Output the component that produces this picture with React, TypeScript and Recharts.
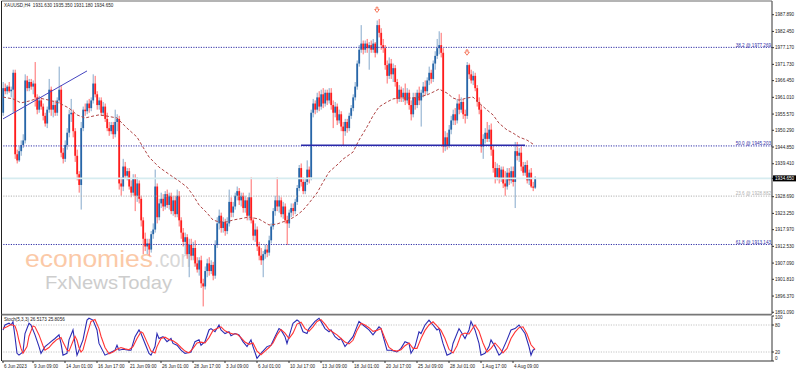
import React from 'react';
import { ComposedChart, Bar, Line, XAxis, YAxis, ReferenceLine, ReferenceDot } from 'recharts';

const FONT = '"Liberation Sans", Arial, sans-serif';

// XAUUSD H4 candles, oldest first (bar 0 = 6 Jun 21:00)
const opens = [
  1956, 1964, 1963, 1964.5, 1963, 1963.5, 1969, 1942.5, 1940.5, 1943.5,
  1945.5, 1947, 1966.5, 1964, 1966, 1964.5, 1965.5, 1961, 1957, 1960,
  1958, 1955, 1952.5, 1957, 1963.5, 1957, 1958.5, 1956, 1960, 1963.5,
  1943, 1941, 1945.5, 1949.5, 1955.5, 1956, 1950, 1942, 1936, 1932.5,
  1951, 1957, 1956.5, 1959, 1957.5, 1960, 1965.5, 1962, 1958.5, 1960,
  1956, 1958, 1954, 1951, 1950, 1952, 1949, 1953, 1954, 1933,
  1932, 1938.5, 1935.5, 1937, 1932, 1930, 1934.5, 1929, 1933, 1928,
  1921, 1915, 1912.5, 1913.5, 1911.5, 1916.5, 1918, 1932, 1922, 1926.5,
  1928, 1925.5, 1929.5, 1926, 1929, 1924, 1927.5, 1923, 1929, 1921,
  1917, 1914, 1915.5, 1910, 1913, 1909.5, 1912, 1907, 1905, 1908,
  1900.5, 1899.5, 1904.5, 1907, 1904.5, 1906.5, 1903, 1913, 1920, 1922.5,
  1918.5, 1920.5, 1917.5, 1920, 1927, 1923.5, 1925.5, 1929, 1930.5, 1927.5,
  1929, 1925, 1927.5, 1922.5, 1928.5, 1921, 1916, 1918, 1912.5, 1909.5,
  1908, 1910, 1911.5, 1910.5, 1914.5, 1919, 1924, 1927.5, 1925.5, 1927.5,
  1923, 1925.5, 1921, 1920, 1923.5, 1925, 1924, 1927, 1931.5, 1938,
  1933.5, 1930.5, 1933.5, 1937.5, 1935, 1956, 1959, 1957, 1961, 1958,
  1962, 1959, 1962.5, 1960, 1962.5, 1958.5, 1956, 1958, 1953.5, 1955.5,
  1951.5, 1950, 1953, 1951, 1955, 1957.5, 1961, 1964.5, 1972, 1976.5,
  1978.5, 1976.5, 1978.5, 1977, 1978, 1976.5, 1978.5, 1975.5, 1984.5, 1982,
  1978, 1977, 1971.5, 1968, 1972, 1968.5, 1970.5, 1966, 1960.5, 1963.5,
  1961, 1962.5, 1960, 1962.5, 1958.5, 1955.5, 1961, 1958.5, 1962.5, 1960,
  1962.5, 1964.5, 1963, 1966.5, 1969, 1967, 1972, 1974.5, 1977, 1978,
  1975.5, 1945, 1948, 1945.5, 1950.5, 1953.5, 1955.5, 1953.5, 1959, 1957,
  1959.5, 1955.5, 1955, 1971.5, 1968.5, 1966.5, 1968, 1964, 1959.5, 1957,
  1945, 1947.5, 1949.5, 1947.5, 1950.5, 1944, 1938, 1935, 1938, 1934.5,
  1937.5, 1933, 1932, 1936.5, 1934, 1937, 1933.5, 1943.5, 1942, 1943,
  1938.5, 1936.5, 1939, 1934, 1936.5, 1932, 1931.63,
];
const highs = [
  1966, 1965.5, 1965, 1966, 1964.5, 1970, 1970, 1944, 1945, 1947,
  1949, 1968.5, 1968, 1967, 1967, 1966.5, 1972.5, 1962, 1961.5, 1961,
  1959, 1956, 1958, 1967, 1964.5, 1960, 1960, 1961, 1971, 1965,
  1944.5, 1947, 1951, 1957, 1960.5, 1957, 1951, 1944, 1937, 1953,
  1958, 1959, 1960, 1960.5, 1961, 1968.5, 1968, 1963, 1961, 1961,
  1959.5, 1959, 1956, 1953, 1953, 1953, 1957, 1955.5, 1955, 1935,
  1941, 1940, 1938, 1938, 1934, 1936, 1936, 1935, 1934, 1929,
  1922, 1917, 1915, 1915, 1917.5, 1920, 1937.5, 1933, 1928, 1930,
  1929.5, 1930.5, 1931, 1930, 1930, 1929, 1929, 1931, 1930.5, 1922,
  1918.5, 1917, 1916.5, 1915, 1915, 1914, 1914.5, 1909, 1909, 1909.5,
  1902, 1906, 1908.5, 1909, 1908, 1907.5, 1914.5, 1922, 1924.5, 1923.5,
  1922, 1921.5, 1922, 1931, 1928.5, 1927, 1930, 1932, 1931.5, 1930,
  1930, 1929, 1928.5, 1930, 1935, 1922, 1920, 1919, 1914, 1912,
  1911, 1913, 1913, 1916, 1920, 1925, 1929, 1935, 1929, 1928.5,
  1927, 1926.5, 1922.5, 1924.5, 1926.5, 1926.5, 1928, 1932.5, 1939, 1939.5,
  1935, 1934.5, 1940.5, 1938.5, 1957, 1960.5, 1960, 1962.5, 1963, 1963.5,
  1964, 1963.5, 1963.5, 1964, 1964, 1960, 1959.5, 1959, 1957, 1956.5,
  1953, 1954, 1954, 1956, 1958.5, 1962, 1966, 1973, 1978, 1984.5,
  1979.5, 1979.5, 1980, 1979, 1979.5, 1980, 1979, 1986, 1986.5, 1983.5,
  1980, 1978, 1973, 1974, 1973.5, 1972, 1971.5, 1967, 1965, 1964.5,
  1964, 1965.5, 1964, 1963.5, 1960, 1962.5, 1962.5, 1963.5, 1964.5, 1963.5,
  1966, 1966.5, 1967.5, 1971, 1970, 1973, 1976, 1980, 1982.5, 1982,
  1977, 1950, 1949.5, 1952, 1955, 1957, 1957.5, 1960.5, 1962, 1961,
  1960.5, 1957, 1972.5, 1972, 1970, 1969.5, 1969, 1965, 1961, 1958.5,
  1949, 1951, 1953, 1952, 1952.5, 1945.5, 1940, 1939.5, 1939, 1938.5,
  1938.5, 1937, 1938, 1938, 1938.5, 1938.5, 1946.5, 1946.5, 1944.5, 1945,
  1940, 1940, 1940.5, 1937.5, 1938, 1933.5, 1935.35,
];
const lows = [
  1955, 1962, 1962, 1962.5, 1961, 1956, 1941, 1939.5, 1940, 1942,
  1944.5, 1946, 1963, 1963, 1963.5, 1962, 1958, 1955.5, 1956, 1957,
  1953.5, 1951.5, 1951, 1956, 1955, 1954.5, 1955, 1955, 1959, 1941.5,
  1939.5, 1940, 1944, 1948, 1953, 1948, 1940, 1934, 1930, 1924.5,
  1950, 1955, 1955.5, 1956, 1956.5, 1959, 1961, 1957, 1957, 1955,
  1955, 1953, 1950, 1948.5, 1949, 1947.5, 1948, 1950, 1931, 1929,
  1930.5, 1934.5, 1934, 1931, 1928.5, 1929, 1924, 1927, 1926.5, 1919,
  1910, 1911, 1910, 1909.5, 1910.5, 1915, 1917, 1920, 1921, 1925,
  1924, 1924.5, 1925, 1924.5, 1923, 1922.5, 1922, 1922, 1919, 1915,
  1912.5, 1910, 1908.5, 1902.5, 1908, 1908, 1906, 1904, 1903, 1899,
  1893, 1898.5, 1902.5, 1903, 1903.5, 1901.5, 1902, 1912, 1918, 1917,
  1917, 1916, 1916.5, 1919, 1922, 1922, 1924.5, 1927.5, 1926, 1925.5,
  1923.5, 1923.5, 1921, 1921, 1920, 1914.5, 1914, 1911, 1908, 1906.5,
  1902.5, 1908.5, 1909, 1909.5, 1913.5, 1918, 1922.5, 1924, 1923.5, 1922,
  1921.5, 1920, 1913, 1918.5, 1922, 1922.5, 1923, 1926, 1930.5, 1932,
  1929.5, 1929.5, 1932.5, 1933, 1934, 1954.5, 1955.5, 1956, 1956.5, 1957,
  1957.5, 1958, 1958.5, 1959, 1957, 1951, 1954.5, 1952, 1952.5, 1950,
  1945.5, 1948.5, 1949.5, 1950, 1954, 1956.5, 1960, 1963.5, 1971, 1975.5,
  1975, 1975.5, 1975.5, 1970, 1975.5, 1975.5, 1974, 1975, 1980.5, 1976.5,
  1975.5, 1970, 1965.5, 1967, 1967, 1966, 1964.5, 1959, 1959.5, 1959.5,
  1959.5, 1958.5, 1959, 1957, 1953.5, 1954.5, 1957, 1957.5, 1958.5, 1951.5,
  1961, 1961.5, 1962, 1965, 1965.5, 1966, 1970, 1973.5, 1975, 1974,
  1943, 1943.5, 1944, 1944.5, 1949, 1952, 1952, 1952.5, 1955.5, 1956,
  1954, 1952.5, 1954, 1967, 1965.5, 1965, 1963, 1958, 1955.5, 1943,
  1941, 1946, 1946.5, 1946.5, 1942, 1936.5, 1933, 1934, 1933, 1933.5,
  1931.5, 1929, 1931, 1932.5, 1933, 1932, 1925, 1940.5, 1940, 1937,
  1935.5, 1935.5, 1933, 1932.5, 1931.5, 1930.5, 1931.18,
];
const closes = [
  1964, 1963, 1964.5, 1963, 1963.5, 1969, 1942.5, 1940.5, 1943.5, 1945.5,
  1947, 1966.5, 1964, 1966, 1964.5, 1965.5, 1961, 1957, 1960, 1958,
  1955, 1952.5, 1957, 1963.5, 1957, 1958.5, 1956, 1960, 1963.5, 1943,
  1941, 1945.5, 1949.5, 1955.5, 1956, 1950, 1942, 1936, 1932.5, 1951,
  1957, 1956.5, 1959, 1957.5, 1960, 1965.5, 1962, 1958.5, 1960, 1956,
  1958, 1954, 1951, 1950, 1952, 1949, 1953, 1954, 1933, 1932,
  1938.5, 1935.5, 1937, 1932, 1930, 1934.5, 1929, 1933, 1928, 1921,
  1915, 1912.5, 1913.5, 1911.5, 1916.5, 1918, 1932, 1922, 1926.5, 1928,
  1925.5, 1929.5, 1926, 1929, 1924, 1927.5, 1923, 1929, 1921, 1917,
  1914, 1915.5, 1910, 1913, 1909.5, 1912, 1907, 1905, 1908, 1900.5,
  1899.5, 1904.5, 1907, 1904.5, 1906.5, 1903, 1913, 1920, 1922.5, 1918.5,
  1920.5, 1917.5, 1920, 1927, 1923.5, 1925.5, 1929, 1930.5, 1927.5, 1929,
  1925, 1927.5, 1922.5, 1928.5, 1921, 1916, 1918, 1912.5, 1909.5, 1908,
  1910, 1911.5, 1910.5, 1914.5, 1919, 1924, 1927.5, 1925.5, 1927.5, 1923,
  1925.5, 1921, 1920, 1923.5, 1925, 1924, 1927, 1931.5, 1938, 1933.5,
  1930.5, 1933.5, 1937.5, 1935, 1956, 1959, 1957, 1961, 1958, 1962,
  1959, 1962.5, 1960, 1962.5, 1958.5, 1956, 1958, 1953.5, 1955.5, 1951.5,
  1950, 1953, 1951, 1955, 1957.5, 1961, 1964.5, 1972, 1976.5, 1978.5,
  1976.5, 1978.5, 1977, 1978, 1976.5, 1978.5, 1975.5, 1984.5, 1982, 1978,
  1977, 1971.5, 1968, 1972, 1968.5, 1970.5, 1966, 1960.5, 1963.5, 1961,
  1962.5, 1960, 1962.5, 1958.5, 1955.5, 1961, 1958.5, 1962.5, 1960, 1962.5,
  1964.5, 1963, 1966.5, 1969, 1967, 1972, 1974.5, 1977, 1978, 1975.5,
  1945, 1948, 1945.5, 1950.5, 1953.5, 1955.5, 1953.5, 1959, 1957, 1959.5,
  1955.5, 1955, 1971.5, 1968.5, 1966.5, 1968, 1964, 1959.5, 1957, 1945,
  1947.5, 1949.5, 1947.5, 1950.5, 1944, 1938, 1935, 1938, 1934.5, 1937.5,
  1933, 1932, 1936.5, 1934, 1937, 1933.5, 1943.5, 1942, 1943, 1938.5,
  1936.5, 1939, 1934, 1936.5, 1932, 1931.6, 1934.65,
];

// time axis labels: bar index and text
const timeTickIdx = [0, 15, 31, 47, 63, 79, 95, 111, 127, 143, 159, 175, 191, 207, 223, 239, 255];
const timeTickText = [
  '6 Jun 2023', '9 Jun 09:00', '14 Jun 01:00', '16 Jun 17:00', '21 Jun 09:00', '26 Jun 01:00',
  '28 Jun 17:00', '3 Jul 09:00', '6 Jul 01:00', '10 Jul 17:00', '13 Jul 09:00', '18 Jul 01:00',
  '20 Jul 17:00', '25 Jul 09:00', '28 Jul 01:00', '1 Aug 17:00', '4 Aug 09:00',
];

const priceTicks = [
  1987.89, 1982.45, 1977.17, 1971.73, 1966.45, 1961.01, 1955.57, 1950.29, 1944.85, 1939.41,
  1934.65, 1928.69, 1923.25, 1917.97, 1912.53, 1907.09, 1901.81, 1896.37, 1891.09,
];
const lastPrice = 1934.65;

// red dashed moving average, read at a handful of bars
const maPoints: [number, number][] = [
  [0, 1961.1], [5, 1960.5], [9, 1959.2], [13, 1959.8], [18, 1960.8], [23, 1960.1], [28, 1959.2],
  [33, 1957.5], [37, 1955.3], [41, 1954.3], [45, 1954.9], [48, 1955.3], [52, 1954.9], [57, 1954.3],
  [62, 1951.0], [67, 1948.1], [70, 1944.8], [73, 1941.6], [78, 1938.3], [85, 1935.1], [88, 1933.8],
  [92, 1931.8], [95, 1929.2], [98, 1926.0], [102, 1923.4], [105, 1921.1], [108, 1920.5], [112, 1920.5],
  [115, 1921.1], [120, 1921.7], [123, 1922.1], [128, 1921.4], [133, 1919.5], [137, 1919.8], [140, 1920.5],
  [143, 1921.1], [147, 1922.7], [150, 1924.3], [153, 1926.6], [157, 1929.9], [160, 1933.4], [163, 1936.7],
  [167, 1939.0], [170, 1940.9], [175, 1943.2], [178, 1947.1], [182, 1951.4], [185, 1955.0], [188, 1957.9],
  [192, 1959.5], [195, 1960.5], [198, 1960.8], [205, 1960.8], [208, 1961.1], [212, 1961.8], [215, 1962.7],
  [218, 1963.7], [222, 1962.4], [225, 1960.8], [228, 1960.1], [232, 1960.8], [235, 1961.1], [238, 1959.2],
  [242, 1956.9], [245, 1955.3], [248, 1952.6], [252, 1950.4], [255, 1949.4], [258, 1948.1], [262, 1947.1],
  [265, 1945.8],
];

// Stoch(5,3,3): main (blue) and signal (red), read at turning points
const stochK: [number, number][] = [
  [0, 69], [1, 80], [3, 84], [4, 80], [5, 87], [6, 54], [7, 17], [8, 13], [10, 20], [11, 61], [13, 84],
  [14, 80], [16, 58], [18, 32], [19, 17], [21, 32], [23, 39], [24, 43], [26, 50], [28, 58], [29, 39],
  [30, 13], [32, 17], [33, 47], [35, 69], [36, 39], [37, 13], [38, 24], [40, 47], [42, 91], [43, 95],
  [45, 91], [47, 69], [48, 39], [51, 13], [53, 17], [56, 24], [57, 35], [58, 24], [60, 26], [63, 24],
  [64, 24], [66, 54], [68, 69], [69, 61], [71, 39], [73, 17], [74, 13], [76, 32], [77, 61], [78, 50],
  [80, 54], [82, 43], [84, 50], [85, 39], [87, 35], [89, 24], [91, 17], [94, 20], [96, 43], [98, 47],
  [99, 35], [101, 43], [103, 69], [104, 72], [106, 65], [108, 80], [109, 69], [111, 61], [113, 65],
  [114, 56], [116, 61], [118, 58], [120, 43], [122, 32], [124, 47], [125, 32], [127, 6], [129, 17],
  [132, 32], [134, 35], [136, 54], [138, 72], [139, 69], [141, 54], [142, 39], [143, 54], [145, 84],
  [147, 91], [148, 88], [150, 65], [152, 61], [153, 72], [156, 88], [158, 95], [159, 88], [161, 72],
  [163, 65], [164, 69], [166, 54], [168, 47], [169, 50], [171, 32], [173, 43], [175, 54], [178, 88],
  [180, 80], [183, 69], [185, 58], [188, 76], [189, 72], [192, 24], [194, 24], [197, 20], [199, 28],
  [201, 43], [203, 39], [204, 17], [206, 32], [208, 65], [209, 61], [211, 80], [213, 91], [215, 80],
  [217, 69], [218, 72], [220, 39], [222, 13], [224, 17], [225, 39], [228, 72], [229, 65], [231, 50],
  [233, 69], [234, 88], [236, 69], [238, 39], [239, 13], [241, 17], [243, 32], [244, 47], [246, 32],
  [248, 13], [249, 17], [252, 47], [254, 69], [256, 72], [258, 80], [261, 61], [263, 32], [264, 13],
  [265, 24], [266, 26.5],
];
const stochD: [number, number][] = [
  [0, 72], [2, 76], [4, 81], [6, 78], [7, 65], [8, 45], [9, 28], [10, 17], [12, 32], [13, 55], [15, 78],
  [16, 76], [18, 58], [20, 34], [21, 24], [23, 30], [25, 40], [27, 48], [29, 52], [30, 42], [32, 24],
  [33, 22], [35, 44], [36, 55], [37, 46], [38, 30], [39, 20], [40, 25], [42, 58], [44, 88], [46, 92],
  [48, 72], [49, 55], [51, 30], [53, 16], [55, 20], [57, 26], [59, 30], [61, 27], [63, 25], [65, 32],
  [67, 50], [69, 65], [70, 62], [72, 42], [74, 22], [76, 18], [77, 32], [79, 50], [81, 53], [83, 48],
  [85, 45], [87, 39], [89, 30], [91, 22], [93, 18], [95, 28], [97, 40], [99, 42], [101, 40], [103, 52],
  [105, 68], [107, 72], [109, 76], [111, 67], [113, 63], [115, 60], [117, 60], [119, 52], [121, 42],
  [123, 37], [125, 40], [127, 22], [129, 14], [131, 22], [133, 30], [135, 40], [137, 58], [139, 70],
  [141, 62], [143, 50], [145, 62], [147, 82], [149, 86], [151, 72], [153, 66], [155, 76], [157, 88],
  [159, 92], [161, 82], [163, 70], [165, 64], [167, 58], [169, 50], [171, 42], [173, 38], [175, 46],
  [177, 68], [179, 84], [181, 80], [183, 74], [185, 66], [187, 68], [189, 72], [191, 50], [193, 30],
  [195, 24], [197, 22], [199, 25], [201, 34], [203, 40], [205, 28], [207, 28], [209, 50], [211, 68],
  [213, 80], [215, 87], [217, 78], [219, 68], [221, 50], [223, 26], [225, 18], [227, 34], [229, 58],
  [231, 62], [233, 60], [235, 74], [236, 80], [238, 66], [240, 40], [242, 20], [244, 28], [246, 40],
  [248, 30], [250, 18], [252, 28], [254, 50], [256, 64], [258, 74], [260, 76], [262, 60], [264, 36],
  [266, 25.8],
];

const fibNames = ['38.2', '50.0', '23.6', '61.8'];
const fibPrices = [1977.269, 1945.203, 1928.882, 1913.143];
const fibColors = ['#3232a8', '#3232a8', '#b0b0b0', '#3232a8'];

// drawn objects: trend line, neckline and the two down arrows
const trendLine = [{ x: 0, y: 1954.0 }, { x: 42, y: 1969.6 }];
const neckLine = [{ x: 149, y: 1945.4 }, { x: 261, y: 1945.4 }];
const arrowBars = [187, 232];
const arrowPrices = [1989.3, 1975.4];

const SLOTS = 385; // visible bar slots incl. the empty chart shift

const maMap = new Map(maPoints);
const kMap = new Map(stochK);
const dMap = new Map(stochD);

const rows = Array.from({ length: SLOTS }, (_, i) => {
  const has = i < closes.length;
  return {
    i,
    open: has ? opens[i] : null,
    high: has ? highs[i] : null,
    low: has ? lows[i] : null,
    close: has ? closes[i] : null,
    range: has ? [lows[i], highs[i]] : null,
    ma: maMap.has(i) ? maMap.get(i) : null,
    k: kMap.has(i) ? kMap.get(i) : null,
    d: dMap.has(i) ? dMap.get(i) : null,
  };
});

function Candle(props: any) {
  const { x, y, width, height, payload } = props;
  if (!payload || payload.open == null) return <g />;
  const { open, high, low, close } = payload;
  const top = Math.min(y, y + height);
  const h = Math.abs(height);
  const k = high > low ? h / (high - low) : 0;
  const yo = top + (high - open) * k;
  const yc = top + (high - close) * k;
  const up = close >= open;
  const cx = x + width / 2;
  return (
    <g>
      <line x1={cx} x2={cx} y1={top} y2={top + h} stroke={up ? '#85a8cb' : '#ff6a6a'} strokeWidth={1} />
      <rect
        x={cx - 0.9}
        y={Math.min(yo, yc)}
        width={1.8}
        height={Math.max(1, Math.abs(yc - yo))}
        fill={up ? '#2766a8' : '#ff1c1c'}
      />
    </g>
  );
}

function Arrow(props: any) {
  const { cx, cy } = props;
  const d = `M${cx - 0.9},${cy - 3.2} h1.8 v2.3 h1.4 l-2.3,3 l-2.3,-3 h1.4 z`;
  return <path d={d} fill="#fff" stroke="#f25a3a" strokeWidth={0.8} />;
}

function PriceTick(props: any) {
  const { x, y, payload } = props;
  const v = payload.value;
  if (v === lastPrice) {
    return (
      <g>
        <rect x={x - 2} y={y - 3} width={23} height={6} fill="#000" />
        <text x={x} y={y + 1.6} fontSize={4.6} fontFamily={FONT} fill="#fff">{v.toFixed(3)}</text>
      </g>
    );
  }
  return <text x={x} y={y + 1.6} fontSize={4.6} fontFamily={FONT} fill="#222">{v.toFixed(3)}</text>;
}

function StochTick(props: any) {
  const { x, y, payload } = props;
  const v = payload.value;
  const dy = v === 100 ? 3.3 : v === 0 ? -1.1 : 1.8;
  return <text x={x} y={y + dy} fontSize={4.6} fontFamily={FONT} fill="#222">{v}</text>;
}

function TimeTick(props: any) {
  const { x, y, payload } = props;
  const n = timeTickIdx.indexOf(payload.value);
  return <text x={x + 1} y={y + 3.5} fontSize={4.6} fontFamily={FONT} fill="#222">{timeTickText[n]}</text>;
}

const fibLabel = (text: string, color: string) => (p: any) => {
  const vb = p.viewBox || {};
  return (
    <text x={vb.x + vb.width - 1} y={vb.y - 0.8} textAnchor="end" fontSize={4.6} fontFamily={FONT} fill={color}>
      {text}
    </text>
  );
};

export default function App() {
  return (
    <div style={{ position: 'absolute', left: 0, top: 0, width: 798, height: 372, background: '#fff', overflow: 'hidden' }}>
      {/* watermark behind the candles */}
      <svg width={798} height={372} style={{ position: 'absolute', left: 0, top: 0 }}>
        <text x={25} y={267} fontSize={24} fontFamily={FONT} fill="#fbc9a7" textLength={128} lengthAdjust="spacingAndGlyphs">
          economies
        </text>
        <text x={154} y={267} fontSize={24} fontFamily={FONT} fill="#d8d8d8" textLength={43} lengthAdjust="spacingAndGlyphs">
          .com
        </text>
        <text x={45} y={289} fontSize={19} fontFamily={FONT} fill="#cdcdcd" textLength={127} lengthAdjust="spacingAndGlyphs">
          FxNewsToday
        </text>
      </svg>

      <div style={{ position: 'absolute', left: 0, top: 0 }}>
        <ComposedChart width={798} height={316} data={rows} margin={{ top: 1, right: 0, bottom: 2, left: 2 }}>
          <XAxis dataKey="i" type="category" hide />
          <YAxis
            orientation="right"
            type="number"
            domain={[1890.53, 1992.35]}
            allowDataOverflow
            ticks={priceTicks}
            interval={0}
            width={26}
            tickSize={2}
            tickMargin={1}
            axisLine={{ stroke: '#333' }}
            tickLine={{ stroke: '#333' }}
            tick={(p: any) => <PriceTick {...p} />}
          />
          <ReferenceLine y={lastPrice} stroke="#d6ecf0" strokeWidth={1.6} />
          {fibPrices.map((v, n) => (
            <ReferenceLine
              key={fibNames[n]}
              y={v}
              stroke={fibColors[n]}
              strokeDasharray="1.2 1.3"
              strokeWidth={1}
              label={fibLabel(`${fibNames[n]} @ ${v.toFixed(3)}`, fibColors[n])}
            />
          ))}
          <Bar dataKey="range" shape={(p: any) => <Candle {...p} />} isAnimationActive={false} />
          <Line
            dataKey="ma"
            stroke="#b04545"
            strokeWidth={1}
            strokeDasharray="3 2"
            dot={false}
            connectNulls
            isAnimationActive={false}
          />
          <ReferenceLine segment={neckLine} stroke="#2a2aaa" strokeWidth={1.5} ifOverflow="visible" />
          <ReferenceLine segment={trendLine} stroke="#4545c0" strokeWidth={1} ifOverflow="visible" />
          {arrowBars.map((b, n) => (
            <ReferenceDot key={b} x={b} y={arrowPrices[n]} r={3} ifOverflow="visible" shape={(p: any) => <Arrow {...p} />} />
          ))}
        </ComposedChart>
      </div>

      <div style={{ position: 'absolute', left: 0, top: 314 }}>
        <ComposedChart width={798} height={58} data={rows} margin={{ top: 2, right: 0, bottom: 0, left: 2 }}>
          <XAxis
            dataKey="i"
            type="category"
            ticks={timeTickIdx}
            interval={0}
            height={11}
            tickSize={2}
            tickMargin={1}
            axisLine={{ stroke: '#333' }}
            tickLine={{ stroke: '#333' }}
            tick={(p: any) => <TimeTick {...p} />}
          />
          <YAxis
            orientation="right"
            type="number"
            domain={[0, 100]}
            ticks={[0, 20, 80, 100]}
            interval={0}
            width={26}
            tickSize={2}
            tickMargin={1}
            axisLine={{ stroke: '#333' }}
            tickLine={{ stroke: '#333' }}
            tick={(p: any) => <StochTick {...p} />}
          />
          <ReferenceLine y={80} stroke="#c4c4c4" strokeDasharray="1.2 1.3" />
          <ReferenceLine y={20} stroke="#c4c4c4" strokeDasharray="1.2 1.3" />
          <Bar dataKey="none" shape={() => <g />} isAnimationActive={false} />
          <Line dataKey="k" stroke="#2c2cb4" strokeWidth={1.1} dot={false} connectNulls isAnimationActive={false} />
          <Line dataKey="d" stroke="#ff3434" strokeWidth={1.1} dot={false} connectNulls isAnimationActive={false} />
        </ComposedChart>
      </div>

      {/* frame and panel captions */}
      <svg width={798} height={372} style={{ position: 'absolute', left: 0, top: 0, pointerEvents: 'none' }}>
        <line x1={1.5} y1={1} x2={772} y2={1} stroke="#6a6a6a" strokeWidth={1.2} />
        <line x1={1.5} y1={1} x2={1.5} y2={361} stroke="#222" strokeWidth={1} />
        <line x1={1.5} y1={314.6} x2={772} y2={314.6} stroke="#777" strokeWidth={1.6} />
        <text x={4} y={6.6} fontSize={4.6} fontFamily={FONT} fill="#222">
          {'XAUUSD,H4\u00a0\u00a01931.630 1935.350 1931.180 1934.650'}
        </text>
        <text x={4} y={321} fontSize={4.6} fontFamily={FONT} fill="#222">
          Stoch(5,3,3) 26.5173 25.8056
        </text>
      </svg>
    </div>
  );
}
